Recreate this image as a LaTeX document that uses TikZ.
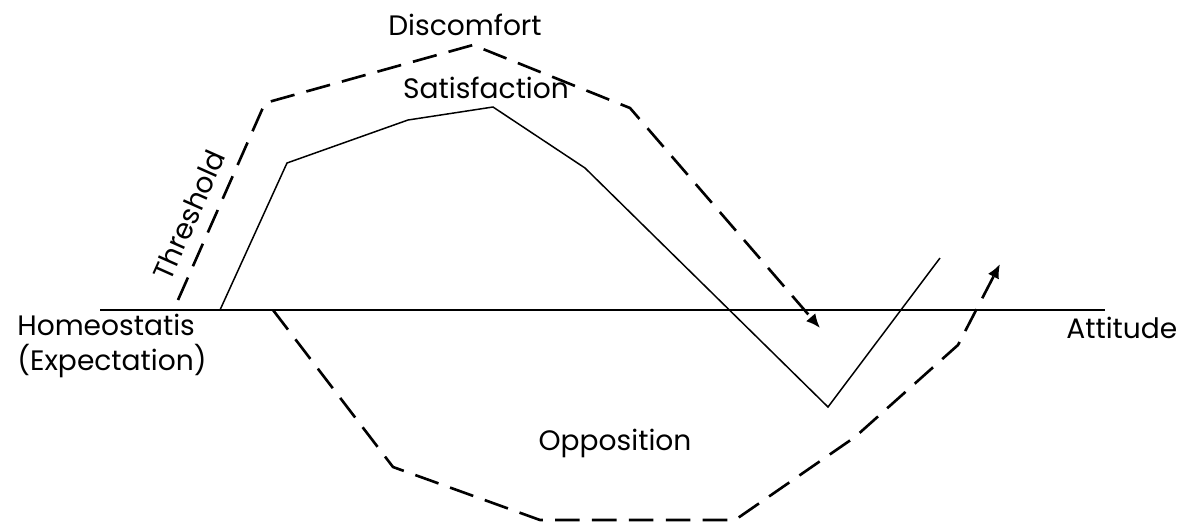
\documentclass[tikz,border=0pt]{standalone}
\usepackage{fontspec}
\setmainfont{Poppins}
\usetikzlibrary{arrows.meta}
\begin{document}
\begin{tikzpicture}[x=0.02cm,y=-0.02cm,
  lbl/.style={font=\fontsize{16}{20}\selectfont, inner sep=0pt},
  solidline/.style={line width=0.85pt},
  dashline/.style={line width=1.5pt, dash pattern=on 14pt off 7pt},
  tip/.style={-{Latex[length=8pt,width=7pt]}}]
\useasboundingbox (0,0) rectangle (1188,525);
% axis
\coordinate (ax0) at (100,310);
\coordinate (ax1) at (1105,310);
\draw[solidline] (ax0) -- (ax1);
% solid satisfaction curve
\coordinate (s0) at (220,310);
\coordinate (s1) at (287,163);
\coordinate (s2) at (408,120);
\coordinate (s3) at (493,107);
\coordinate (s4) at (585,168);
\coordinate (s5) at (828,407);
\coordinate (s6) at (940,258);
\draw[solidline] (s0) -- (s1) -- (s2) -- (s3) -- (s4) -- (s5) -- (s6);
% upper dashed (threshold/discomfort)
\coordinate (u0) at (178,300);
\coordinate (u1) at (265,103);
\coordinate (u2) at (473,45);
\coordinate (u3) at (630,108);
\coordinate (u4) at (820,328);
\draw[dashline,tip] (u0) -- (u1) -- (u2) -- (u3) -- (u4);
% lower dashed (opposition)
\coordinate (l0) at (273,310);
\coordinate (l1) at (393,467);
\coordinate (l2) at (540,520);
\coordinate (l3) at (735,520);
\coordinate (l4) at (855,437);
\coordinate (l5) at (958,345);
\coordinate (l6) at (1000,264);
\draw[dashline,tip] (l0) -- (l1) -- (l2) -- (l3) -- (l4) -- (l5) -- (l6);
% labels
\node[lbl] (discomfort) at (465,25) {Discomfort};
\node[lbl] (satisfaction) at (486,88) {Satisfaction};
\node[lbl, rotate=66] (threshold) at (189,215) {Threshold};
\node[lbl, anchor=north west, align=left] (homeo) at (17,314) {Homeostatis\\(Expectation)};
\node[lbl, anchor=west] (attitude) at (1066,328) {Attitude};
\node[lbl] (opposition) at (615,443) {Opposition};
\end{tikzpicture}
\end{document}
